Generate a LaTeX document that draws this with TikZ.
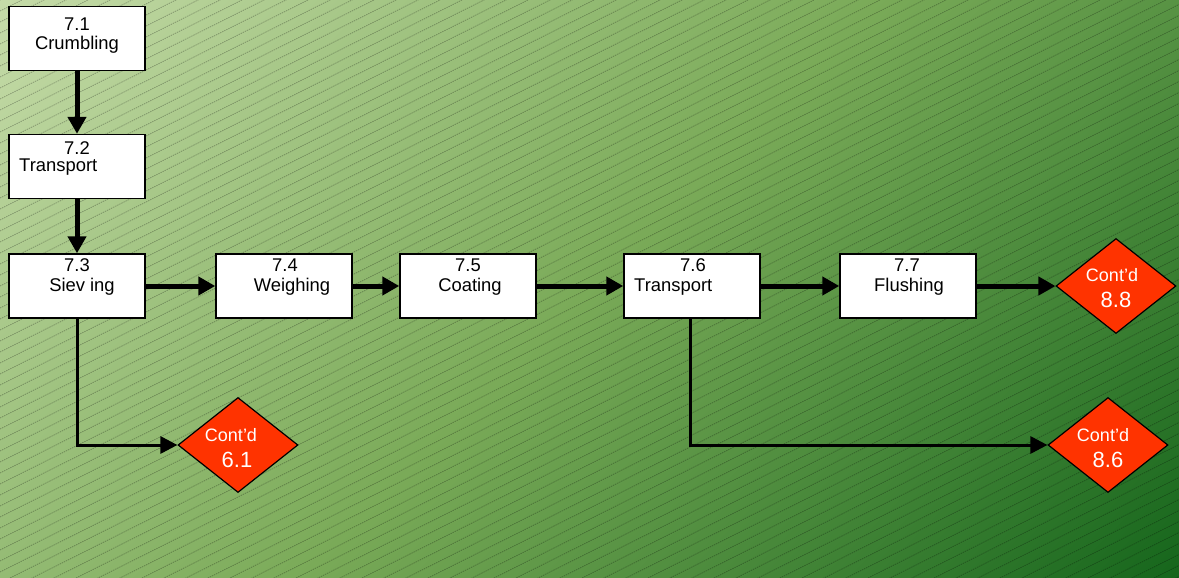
\documentclass[tikz,border=0pt]{standalone}
\usepackage{fontspec}
\setmainfont{Liberation Sans}
\usetikzlibrary{arrows.meta,shapes.geometric,calc}

\definecolor{bglight}{RGB}{197,219,168}
\definecolor{bgmid}{RGB}{122,170,88}
\definecolor{bgdark}{RGB}{22,102,28}
\definecolor{contred}{RGB}{255,51,0}

% diagonal background: the corners of the box sit at 14.64bp / 85.36bp
\pgfdeclareverticalshading{bgdiag}{100bp}{color(0bp)=(bgdark); color(14.64bp)=(bgdark); color(50bp)=(bgmid); color(85.36bp)=(bglight); color(100bp)=(bglight)}

\tikzset{
  stepbox/.style={draw=black, line width=1.4pt, fill=white, rectangle,
    minimum width=136pt, minimum height=64pt, inner sep=0pt},
  contd/.style={draw=black, line width=1.2pt, fill=contred, diamond,
    minimum width=120pt, minimum height=95pt, inner sep=0pt},
  txt/.style={font=\fontsize{18.4pt}{20pt}\selectfont, inner sep=0pt},
  ctxt/.style={font=\fontsize{18pt}{20pt}\selectfont, text=white, inner sep=0pt},
  cnum/.style={font=\fontsize{22pt}{24pt}\selectfont, text=white, inner sep=0pt},
  flow/.style={line width=5pt, -{Triangle[length=17pt,width=18pt]}},
  branch/.style={line width=3pt, -{Triangle[length=17pt,width=17pt]}},
  hatch/.style={black, opacity=0.28, line width=0.7pt, dash pattern=on 1.4pt off 0.9pt},
}

\begin{document}
\begin{tikzpicture}[x=1pt,y=-1pt]
\useasboundingbox (0,0) rectangle (1179,578);

% background with diagonal hatching
\shade[shading=bgdiag, shading angle=45] (0,0) rectangle (1179,578);
\begin{scope}
  \clip (0,0) rectangle (1179,578);
  \foreach \c in {0,11,...,1190}
    \draw[hatch] (0,\c) -- (1179,{\c-589.5});
\end{scope}

% process steps
\node[stepbox] (b1) at (77,38.5) {};
\node[stepbox] (b2) at (77,166.5) {};
\node[stepbox] (b3) at (77,286) {};
\node[stepbox] (b4) at (284,286) {};
\node[stepbox] (b5) at (468,286) {};
\node[stepbox] (b6) at (692,286) {};
\node[stepbox] (b7) at (908,286) {};

\node[txt] (t1a) at (77,24) {7.1};
\node[txt] (t1b) at (77,45) {Crumbling};
\node[txt] (t2a) at (77,148) {7.2};
\node[txt, anchor=west] (t2b) at (19,167) {Transport};
\node[txt] (t3a) at (77,265) {7.3};
\node[txt] (t3b) at (82,287) {Siev ing};
\node[txt] (t4a) at (285,265) {7.4};
\node[txt] (t4b) at (292,287) {Weighing};
\node[txt] (t5a) at (468,265) {7.5};
\node[txt] (t5b) at (470,287) {Coating};
\node[txt] (t6a) at (693,265) {7.6};
\node[txt, anchor=west] (t6b) at (634,287) {Transport};
\node[txt] (t7a) at (907,265) {7.7};
\node[txt] (t7b) at (909,287) {Flushing};

% continuation markers
\node[contd] (d88) at (1116,286) {};
\node[contd] (d61) at (238,445) {};
\node[contd] (d86) at (1108,445) {};

\node[ctxt] (c88) at (1112,275) {Cont’d};
\node[cnum] (n88) at (1116,300) {8.8};
\node[ctxt] (c61) at (231,435) {Cont’d};
\node[cnum] (n61) at (237,460) {6.1};
\node[ctxt] (c86) at (1103,435) {Cont’d};
\node[cnum] (n86) at (1108,460) {8.6};

% flow
\draw[flow] (b1) -- (b2);
\draw[flow] (b2) -- (b3);
\draw[flow] (b3) -- (b4);
\draw[flow] (b4) -- (b5);
\draw[flow] (b5) -- (b6);
\draw[flow] (b6) -- (b7);
\draw[flow] (b7) -- (d88);
\draw[branch] (b3.south) |- (d61.west);
\draw[branch] ([xshift=-2pt]b6.south) |- (d86.west);
\end{tikzpicture}
\end{document}
